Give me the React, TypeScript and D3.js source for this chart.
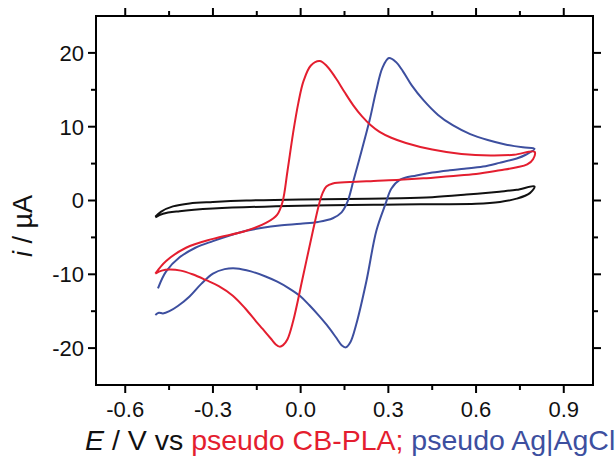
import React, { useEffect, useRef } from "react";
import * as d3 from "d3";

// cyclic voltammograms, points are [E (V), i (µA)]
const cbPla: [number, number][] = [
  [-0.497, -9.9], [-0.46, -8.2], [-0.392, -6.4], [-0.3, -5.2], [-0.186, -4.1],
  [-0.117, -3.0], [-0.08, -1.9], [-0.062, -0.2], [-0.045, 4.0], [-0.026, 9.1],
  [-0.008, 13.2], [0.01, 16.2], [0.035, 18.3], [0.065, 18.9], [0.09, 18.2],
  [0.12, 16.6], [0.15, 14.7], [0.18, 12.9], [0.21, 11.4], [0.24, 10.2],
  [0.27, 9.3], [0.31, 8.5], [0.36, 7.8], [0.45, 6.9], [0.55, 6.3],
  [0.65, 6.1], [0.73, 6.2], [0.8, 6.6],
  [0.795, 5.6], [0.775, 4.9], [0.74, 4.5], [0.682, 4.1], [0.6, 3.6],
  [0.51, 3.3], [0.42, 3.0], [0.339, 2.8], [0.25, 2.65], [0.168, 2.5],
  [0.11, 2.3], [0.088, 1.9], [0.075, 1.0], [0.065, -0.2], [0.042, -4.1],
  [0.008, -10.3], [-0.026, -16.4], [-0.045, -18.8], [-0.06, -19.6], [-0.072, -19.8],
  [-0.085, -19.5], [-0.1, -18.8], [-0.13, -17.4], [-0.152, -16.4], [-0.19, -14.6],
  [-0.232, -12.9], [-0.28, -11.6], [-0.323, -10.8], [-0.37, -10.0], [-0.41, -9.5],
  [-0.449, -9.35], [-0.475, -9.5], [-0.497, -9.9],
];

const agAgCl: [number, number][] = [
  [-0.488, -11.9], [-0.46, -9.6], [-0.414, -7.7], [-0.36, -6.4], [-0.3, -5.5],
  [-0.24, -4.7], [-0.186, -4.1], [-0.13, -3.7], [-0.072, -3.4], [0.0, -3.15],
  [0.06, -2.9], [0.11, -2.4], [0.14, -1.6], [0.16, -0.2], [0.18, 2.6],
  [0.2, 5.5], [0.236, 10.9], [0.258, 14.8], [0.28, 18.0], [0.302, 19.3],
  [0.325, 18.8], [0.35, 17.5], [0.38, 15.6], [0.42, 13.6], [0.47, 11.6],
  [0.52, 10.2], [0.58, 9.0], [0.64, 8.2], [0.7, 7.6], [0.76, 7.2], [0.8, 7.0],
  [0.77, 6.2], [0.739, 5.7], [0.68, 5.1], [0.624, 4.6], [0.56, 4.3],
  [0.51, 4.1], [0.45, 3.8], [0.396, 3.4], [0.339, 2.8], [0.31, 1.6],
  [0.29, -0.5], [0.259, -4.1], [0.225, -10.9], [0.19, -16.8], [0.17, -19.2],
  [0.154, -19.9], [0.14, -19.6], [0.12, -18.5], [0.09, -16.9], [0.06, -15.5],
  [0.03, -14.2], [0.0, -13.0], [-0.04, -11.9], [-0.08, -11.0], [-0.12, -10.3],
  [-0.17, -9.6], [-0.22, -9.2], [-0.26, -9.3], [-0.3, -9.9], [-0.34, -11.3],
  [-0.38, -13.0], [-0.42, -14.3], [-0.449, -15.0], [-0.471, -15.3], [-0.485, -15.2],
  [-0.497, -15.5],
];

const blank: [number, number][] = [
  [-0.497, -2.2], [-0.477, -1.5], [-0.437, -0.8], [-0.38, -0.4], [-0.3, -0.2],
  [-0.186, 0.0], [0.0, 0.15], [0.156, 0.2], [0.339, 0.3], [0.45, 0.45],
  [0.567, 0.8], [0.68, 1.2], [0.739, 1.45], [0.8, 1.9],
  [0.784, 1.0], [0.739, 0.25], [0.682, -0.2], [0.6, -0.45], [0.453, -0.5],
  [0.339, -0.55], [0.0, -0.7], [-0.3, -1.1], [-0.414, -1.45], [-0.471, -1.8],
  [-0.497, -2.3],
];

const xTicks = [-0.6, -0.3, 0.0, 0.3, 0.6, 0.9];
const xMinor = [-0.45, -0.15, 0.15, 0.45, 0.75];
const yTicks = [-20, -10, 0, 10, 20];
const yMinor = [-15, -5, 5, 15];

const RED = "#e41e2f";
const BLUE = "#3d4f9f";
const FONT = "'Liberation Sans', Arial, Helvetica, sans-serif";

const App = () => {
  const svgRef = useRef<SVGSVGElement>(null);

  useEffect(() => {
    const width = 616;
    const height = 456;
    const m = { left: 96, right: 23, top: 16, bottom: 71 };

    const svg = d3.select(svgRef.current);
    svg.selectAll("*").remove();
    svg.attr("width", width).attr("height", height);

    const x = d3.scaleLinear().domain([-0.7, 1.0]).range([m.left, width - m.right]);
    const y = d3.scaleLinear().domain([-25, 25]).range([height - m.bottom, m.top]);

    const line = d3
      .line<[number, number]>()
      .x((d) => x(d[0]))
      .y((d) => y(d[1]))
      .curve(d3.curveCatmullRom.alpha(0.5));

    const curves: [[number, number][], string][] = [
      [blank, "#111"],
      [agAgCl, BLUE],
      [cbPla, RED],
    ];
    curves.forEach(([data, color]) => {
      svg
        .append("path")
        .attr("d", line(data))
        .attr("fill", "none")
        .attr("stroke", color)
        .attr("stroke-width", 2)
        .attr("stroke-linejoin", "round");
    });

    // frame
    const x0 = m.left, x1 = width - m.right, y0 = m.top, y1 = height - m.bottom;
    svg
      .append("rect")
      .attr("x", x0)
      .attr("y", y0)
      .attr("width", x1 - x0)
      .attr("height", y1 - y0)
      .attr("fill", "none")
      .attr("stroke", "#000")
      .attr("stroke-width", 2);

    const ticks = svg.append("g").attr("stroke", "#000").attr("stroke-width", 2);
    const xt = (vals: number[], len: number) => {
      vals.forEach((v) => {
        ticks.append("line").attr("x1", x(v)).attr("x2", x(v)).attr("y1", y1).attr("y2", y1 + len);
        ticks.append("line").attr("x1", x(v)).attr("x2", x(v)).attr("y1", y0).attr("y2", y0 - len);
      });
    };
    const yt = (vals: number[], len: number) => {
      vals.forEach((v) => {
        ticks.append("line").attr("x1", x0).attr("x2", x0 - len).attr("y1", y(v)).attr("y2", y(v));
        ticks.append("line").attr("x1", x1).attr("x2", x1 + len).attr("y1", y(v)).attr("y2", y(v));
      });
    };
    xt(xTicks, 8);
    xt(xMinor, 5);
    yt(yTicks, 8);
    yt(yMinor, 5);

    svg
      .append("g")
      .selectAll("text")
      .data(xTicks)
      .enter()
      .append("text")
      .attr("x", (d) => x(d))
      .attr("y", 417)
      .attr("text-anchor", "middle")
      .attr("font-family", FONT)
      .attr("font-size", 22)
      .attr("fill", "#111")
      .text((d) => d.toFixed(1));

    svg
      .append("g")
      .selectAll("text")
      .data(yTicks)
      .enter()
      .append("text")
      .attr("x", x0 - 12)
      .attr("y", (d) => y(d))
      .attr("dy", "0.36em")
      .attr("text-anchor", "end")
      .attr("font-family", FONT)
      .attr("font-size", 22)
      .attr("fill", "#111")
      .text((d) => String(d));

    // axis titles
    const xt2 = svg
      .append("text")
      .attr("x", 85)
      .attr("y", 450)
      .attr("font-family", FONT)
      .attr("font-size", 28.5)
      .attr("fill", "#111");
    xt2.append("tspan").attr("font-style", "italic").text("E");
    xt2.append("tspan").text(" / V vs ");
    xt2.append("tspan").attr("fill", RED).text("pseudo CB-PLA;");
    xt2.append("tspan").attr("fill", BLUE).text(" pseudo Ag|AgCl");

    const yt2 = svg
      .append("text")
      .attr("transform", "translate(32,226) rotate(-90)")
      .attr("text-anchor", "middle")
      .attr("font-family", FONT)
      .attr("font-size", 27)
      .attr("fill", "#111");
    yt2.append("tspan").attr("font-style", "italic").text("i");
    yt2.append("tspan").text(" / µA");
  }, []);

  return (
    <div style={{ position: "absolute", left: 0, top: 0 }}>
      <svg ref={svgRef} style={{ display: "block", background: "#fff" }}></svg>
    </div>
  );
};

export default App;
